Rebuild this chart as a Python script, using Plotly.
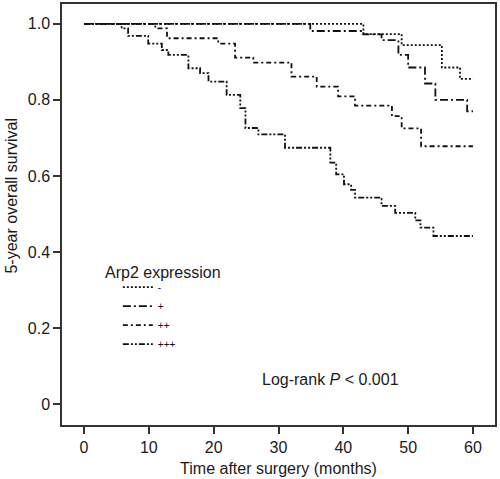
import plotly.graph_objects as go

# Kaplan-Meier step data (months, survival)
neg_t = [0, 43.1, 49.0, 55.2, 58.0, 60]
neg_s = [1.0, 0.973, 0.944, 0.885, 0.855, 0.855]

pos1_t = [0, 34.9, 43.1, 45.9, 48.5, 50.0, 52.6, 54.2, 59.1, 60]
pos1_s = [1.0, 0.981, 0.972, 0.957, 0.918, 0.885, 0.843, 0.800, 0.770, 0.770]

pos2_t = [0, 11.0, 12.8, 20.7, 23.3, 26.1, 32.0, 35.9, 39.2, 41.8, 47.5, 49.0, 52.0, 60]
pos2_s = [1.0, 0.988, 0.962, 0.948, 0.911, 0.898, 0.861, 0.835, 0.809, 0.785, 0.757, 0.725, 0.678, 0.678]

pos3_t = [0, 5.8, 6.8, 9.9, 12.0, 13.0, 16.1, 17.9, 19.2, 22.0, 24.1, 24.9, 26.9, 31.0,
          38.0, 38.9, 40.1, 41.2, 41.8, 45.9, 48.0, 51.1, 51.9, 53.9, 60]
pos3_s = [1.0, 0.988, 0.968, 0.948, 0.931, 0.918, 0.883, 0.870, 0.848, 0.813, 0.778, 0.726, 0.709, 0.674,
          0.635, 0.604, 0.578, 0.563, 0.543, 0.521, 0.503, 0.483, 0.464, 0.442, 0.442]

group_names = ["-", "+", "++", "+++"]
x_ticks = [0, 10, 20, 30, 40, 50, 60]
y_ticks = [0, 0.2, 0.4, 0.6, 0.8, 1.0]
y_tick_text = ["0", "0.2", "0.4", "0.6", "0.8", "1.0"]

series = [(neg_t, neg_s), (pos1_t, pos1_s), (pos2_t, pos2_s), (pos3_t, pos3_s)]
dashes = ["2px,2px", "8px,3px,2px,3px", "5px,3px,2px,3px", "6px,2px,2px,2px,2px,2px"]

FONT = "Arial, 'Liberation Sans', Helvetica, sans-serif"
fig = go.Figure()
for (t, s), name, d in zip(series, group_names, dashes):
    fig.add_trace(go.Scatter(x=t, y=s, mode="lines", name=name,
                             line=dict(shape="hv", color="#111111", width=1.8, dash=d)))

axis_common = dict(showline=True, linecolor="#333333", linewidth=1.5, mirror=True,
                   ticks="outside", ticklen=7, tickwidth=1.5, tickcolor="#333333",
                   showgrid=False, zeroline=False,
                   tickfont=dict(family=FONT, size=16, color="#1a1a1a"))

fig.update_layout(
    width=500, height=479,
    margin=dict(l=62, r=5, t=2, b=54),
    plot_bgcolor="white", paper_bgcolor="white",
    font=dict(family=FONT, color="#1a1a1a"),
    xaxis=dict(range=[-3.4, 63.4], tickvals=x_ticks,
               title=dict(text="Time after surgery (months)", font=dict(family=FONT, size=16), standoff=8),
               **axis_common),
    yaxis=dict(range=[-0.055, 1.052], tickvals=y_ticks, ticktext=y_tick_text, **axis_common),
    showlegend=True,
    legend=dict(x=0.129, y=0.362, xanchor="left", yanchor="top",
                font=dict(family=FONT, size=10, color="#111111"),
                bgcolor="rgba(0,0,0,0)", borderwidth=0, itemwidth=30),
    annotations=[
        dict(text="5-year overall survival", xref="paper", yref="paper", x=-0.1155, y=0.545,
             xanchor="center", yanchor="middle", textangle=-90, showarrow=False,
             font=dict(family=FONT, size=16, color="#1a1a1a")),
        dict(text="Arp2 expression", xref="paper", yref="paper", x=(103 - 62) / 433, y=(425 - 272) / 423,
             xanchor="left", yanchor="middle", showarrow=False,
             font=dict(family=FONT, size=16, color="#1a1a1a")),
        dict(text="Log-rank <i>P</i> &lt; 0.001", xref="paper", yref="paper", x=0.619, y=0.109,
             xanchor="center", yanchor="middle", showarrow=False,
             font=dict(family=FONT, size=16, color="#1a1a1a")),
    ],
)

fig.write_html("out.html", config={"displayModeBar": False},
               post_script="document.body.style.margin='0px';document.body.style.padding='0px';")
